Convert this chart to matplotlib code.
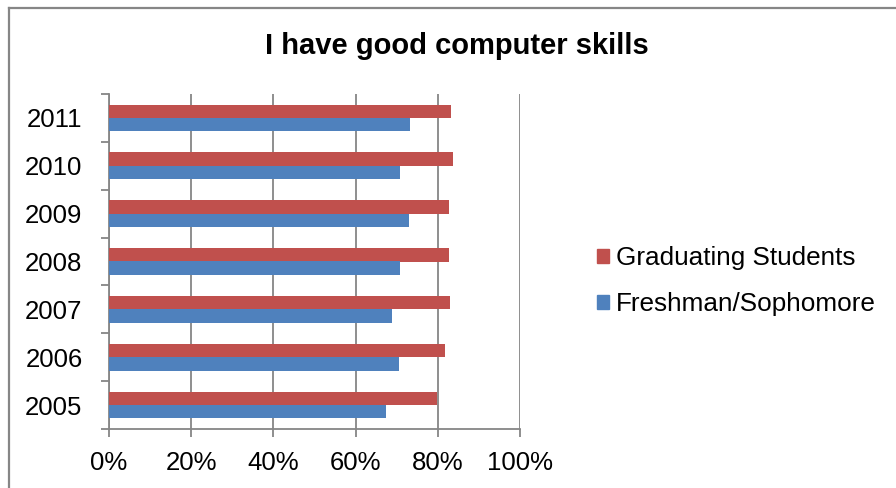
import numpy as np
import matplotlib.pyplot as plt
from matplotlib.patches import Patch
from matplotlib.lines import Line2D
from matplotlib.ticker import FuncFormatter, MultipleLocator, FixedLocator

plt.rcParams['font.family'] = ['Liberation Sans', 'DejaVu Sans']

years = ['2005', '2006', '2007', '2008', '2009', '2010', '2011']
graduating = [79.8, 81.7, 82.9, 82.7, 82.8, 83.7, 83.3]
freshman = [67.3, 70.5, 68.9, 70.9, 72.9, 70.7, 73.2]

RED = '#C0504D'
BLUE = '#4F81BD'
GRID = '#868686'

W, H = 896, 488
fig = plt.figure(figsize=(W / 100, H / 100), dpi=100)
ax = fig.add_axes([109 / W, 1 - 429 / H, (520 - 109) / W, (429 - 94) / H])

y = np.arange(len(years))
h = 0.28
ax.barh(y + h / 2, graduating, height=h, color=RED, label='Graduating Students', zorder=3)
ax.barh(y - h / 2, freshman, height=h, color=BLUE, label='Freshman/Sophomore', zorder=3)

ax.set_xlim(0, 100)
ax.set_ylim(-0.5, len(years) - 0.5)

ax.xaxis.set_major_locator(MultipleLocator(20))
ax.xaxis.set_major_formatter(FuncFormatter(lambda v, _: f'{v:.0f}%'))
ax.grid(axis='x', color=GRID, linewidth=1.3, zorder=0)

ax.set_yticks(y)
ax.set_yticklabels(years)
ax.yaxis.set_minor_locator(FixedLocator(np.arange(-0.5, len(years), 1.0)))
ax.tick_params(axis='y', which='major', length=0, pad=19, labelsize=18.5)
ax.tick_params(axis='y', which='minor', length=6, width=1.3, color=GRID)
ax.tick_params(axis='x', which='major', length=6, width=1.3, color=GRID, pad=10, labelsize=18.5)

for s in ['top', 'right']:
    ax.spines[s].set_visible(False)
for s in ['left', 'bottom']:
    ax.spines[s].set_color(GRID)
    ax.spines[s].set_linewidth(1.3)

fig.text(457 / W, 1 - 46 / H, 'I have good computer skills', ha='center', va='center',
         fontsize=21, fontweight='bold')

handles = [Patch(color=RED), Patch(color=BLUE)]
fig.legend(handles, ['Graduating Students', 'Freshman/Sophomore'], loc='center left',
           bbox_to_anchor=(597 / W, 1 - 281 / H), frameon=False, fontsize=18.8,
           handlelength=0.45, handleheight=0.45, handletextpad=0.28, labelspacing=0.85,
           borderpad=0, borderaxespad=0)

# outer chart frame (left and top edges)
fig.add_artist(Line2D([8.5 / W, 8.5 / W], [0, 1 - 8 / H], color=GRID, linewidth=1.6))
fig.add_artist(Line2D([8.5 / W, 1], [1 - 8 / H, 1 - 8 / H], color=GRID, linewidth=1.6))

fig.savefig('out.png', dpi=100)
